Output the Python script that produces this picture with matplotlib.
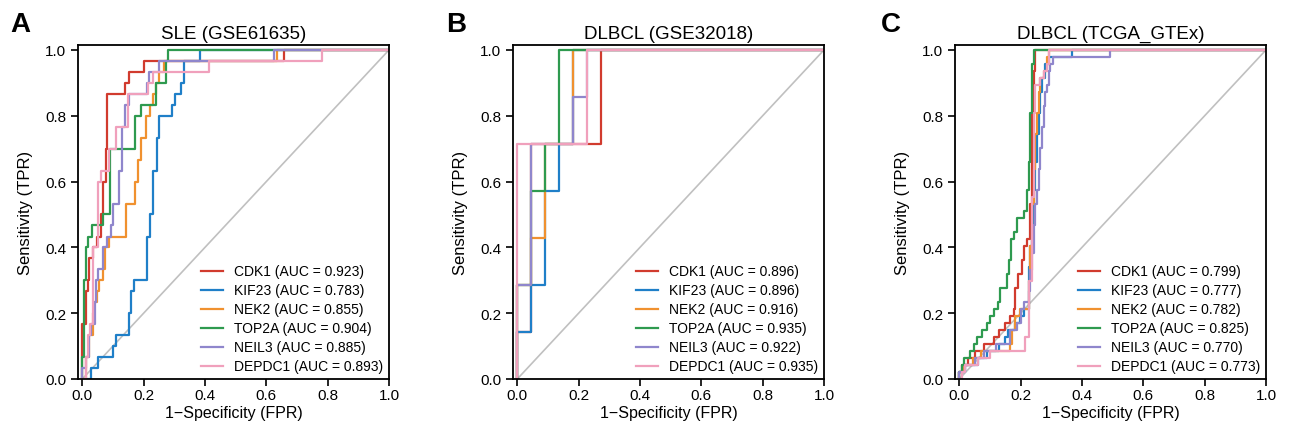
import matplotlib
matplotlib.use("Agg")
import matplotlib.pyplot as plt

plt.rcParams['font.family'] = ['Liberation Sans', 'DejaVu Sans']

# Genes / leyenda
genes = ["CDK1", "KIF23", "NEK2", "TOP2A", "NEIL3", "DEPDC1"]
colores = ["#d13b2e", "#1f7fc8", "#f0912f", "#2e9a4f", "#8f86cc", "#f0a0bc"]
titulos = ["SLE (GSE61635)", "DLBCL (GSE32018)", "DLBCL (TCGA_GTEx)"]
letras = ["A", "B", "C"]

auc_sle = [0.923, 0.783, 0.855, 0.904, 0.885, 0.893]
auc_gse32018 = [0.896, 0.896, 0.916, 0.935, 0.922, 0.935]
auc_tcga = [0.799, 0.777, 0.782, 0.825, 0.770, 0.773]

# Curvas ROC: posiciones FPR donde sube la curva y TPR tras cada salto
# --- SLE (GSE61635)
sle_cdk1_fpr = [0, 0.011, 0.017, 0.023, 0.034, 0.047, 0.061, 0.068, 0.077, 0.08, 0.14, 0.151, 0.202, 0.657]
sle_cdk1_tpr = [0.167, 0.267, 0.3, 0.367, 0.4, 0.433, 0.5, 0.6, 0.7, 0.867, 0.9, 0.933, 0.967, 1.0]
sle_kif23_fpr = [0.028, 0.05, 0.099, 0.11, 0.151, 0.159, 0.17, 0.212, 0.22, 0.231, 0.243, 0.251, 0.294, 0.302, 0.321, 0.332, 0.383]
sle_kif23_tpr = [0.033, 0.067, 0.1, 0.133, 0.2, 0.267, 0.3, 0.433, 0.5, 0.633, 0.733, 0.8, 0.833, 0.867, 0.9, 0.967, 1.0]
sle_nek2_fpr = [0.011, 0.022, 0.034, 0.039, 0.047, 0.055, 0.066, 0.075, 0.088, 0.142, 0.173, 0.18, 0.19, 0.207, 0.22, 0.23, 0.24, 0.25, 0.265, 0.636]
sle_nek2_tpr = [0.067, 0.133, 0.2, 0.233, 0.267, 0.3, 0.333, 0.4, 0.433, 0.533, 0.6, 0.667, 0.733, 0.8, 0.833, 0.867, 0.9, 0.933, 0.967, 1.0]
sle_top2a_fpr = [0, 0.004, 0.011, 0.017, 0.032, 0.066, 0.091, 0.173, 0.191, 0.24, 0.273, 0.281]
sle_top2a_tpr = [0.067, 0.3, 0.4, 0.433, 0.467, 0.5, 0.7, 0.8, 0.833, 0.9, 0.967, 1.0]
sle_neil3_fpr = [0, 0.011, 0.022, 0.03, 0.04, 0.045, 0.05, 0.066, 0.079, 0.092, 0.1, 0.12, 0.128, 0.139, 0.153, 0.21, 0.218, 0.251, 0.625]
sle_neil3_tpr = [0.033, 0.067, 0.133, 0.167, 0.233, 0.3, 0.333, 0.4, 0.433, 0.467, 0.533, 0.633, 0.767, 0.833, 0.867, 0.9, 0.933, 0.967, 1.0]
sle_depdc1_fpr = [0.011, 0.017, 0.025, 0.036, 0.05, 0.061, 0.088, 0.11, 0.148, 0.213, 0.231, 0.414, 0.78]
sle_depdc1_tpr = [0.067, 0.133, 0.167, 0.4, 0.6, 0.633, 0.7, 0.767, 0.867, 0.9, 0.933, 0.967, 1.0]

# --- DLBCL (GSE32018)
gse_cdk1_fpr = [0, 0.045, 0.273]
gse_cdk1_tpr = [0.143, 0.714, 1.0]
gse_kif23_fpr = [0, 0.045, 0.091, 0.136, 0.182]
gse_kif23_tpr = [0.143, 0.286, 0.571, 0.714, 1.0]
gse_nek2_fpr = [0, 0.045, 0.091, 0.182]
gse_nek2_tpr = [0.286, 0.429, 0.714, 1.0]
gse_top2a_fpr = [0, 0.045, 0.091, 0.136]
gse_top2a_tpr = [0.286, 0.571, 0.714, 1.0]
gse_neil3_fpr = [0, 0.045, 0.182, 0.227]
gse_neil3_tpr = [0.286, 0.714, 0.857, 1.0]
gse_depdc1_fpr = [0, 0.227]
gse_depdc1_tpr = [0.714, 1.0]

# --- DLBCL (TCGA_GTEx)
tcga_cdk1_fpr = [0, 0.01, 0.03, 0.052, 0.079, 0.112, 0.128, 0.15, 0.166, 0.177, 0.183, 0.193, 0.205, 0.21, 0.22, 0.231, 0.237, 0.242, 0.248]
tcga_cdk1_tpr = [0.021, 0.043, 0.064, 0.085, 0.106, 0.128, 0.149, 0.17, 0.191, 0.213, 0.277, 0.319, 0.362, 0.404, 0.426, 0.532, 0.809, 0.936, 1.0]
tcga_kif23_fpr = [0, 0.02, 0.06, 0.09, 0.13, 0.15, 0.16, 0.18, 0.199, 0.21, 0.226, 0.232, 0.237, 0.243, 0.248, 0.253, 0.259, 0.264, 0.27, 0.28, 0.291, 0.367]
tcga_kif23_tpr = [0.021, 0.043, 0.064, 0.085, 0.106, 0.128, 0.149, 0.17, 0.191, 0.213, 0.34, 0.404, 0.468, 0.574, 0.66, 0.745, 0.809, 0.872, 0.915, 0.957, 0.979, 1.0]
tcga_nek2_fpr = [0, 0.015, 0.045, 0.07, 0.166, 0.172, 0.183, 0.199, 0.226, 0.231, 0.237, 0.242, 0.248, 0.253, 0.259, 0.264, 0.275, 0.286, 0.291]
tcga_nek2_tpr = [0.021, 0.043, 0.064, 0.085, 0.106, 0.149, 0.191, 0.213, 0.298, 0.404, 0.532, 0.638, 0.745, 0.809, 0.872, 0.915, 0.936, 0.979, 1.0]
tcga_top2a_fpr = [0, 0.008, 0.014, 0.036, 0.047, 0.058, 0.074, 0.09, 0.1, 0.112, 0.125, 0.134, 0.155, 0.163, 0.168, 0.177, 0.188, 0.21, 0.22, 0.226, 0.232, 0.237, 0.242]
tcga_top2a_tpr = [0.021, 0.043, 0.064, 0.085, 0.106, 0.128, 0.149, 0.17, 0.191, 0.213, 0.234, 0.277, 0.319, 0.362, 0.426, 0.447, 0.489, 0.511, 0.574, 0.66, 0.809, 0.957, 1.0]
tcga_neil3_fpr = [0, 0.02, 0.05, 0.08, 0.12, 0.166, 0.188, 0.2, 0.21, 0.226, 0.231, 0.237, 0.242, 0.248, 0.253, 0.259, 0.264, 0.27, 0.275, 0.28, 0.286, 0.291, 0.297, 0.307, 0.49]
tcga_neil3_tpr = [0.021, 0.043, 0.064, 0.085, 0.106, 0.149, 0.17, 0.213, 0.234, 0.266, 0.33, 0.383, 0.468, 0.532, 0.574, 0.638, 0.702, 0.766, 0.83, 0.872, 0.894, 0.936, 0.957, 0.979, 1.0]
tcga_depdc1_fpr = [0.01, 0.02, 0.06, 0.1, 0.215, 0.228, 0.237, 0.242, 0.248, 0.264, 0.275, 0.286, 0.291]
tcga_depdc1_tpr = [0.021, 0.043, 0.064, 0.085, 0.128, 0.298, 0.553, 0.809, 0.894, 0.915, 0.936, 0.957, 1.0]

paneles = [
    ([sle_cdk1_fpr, sle_kif23_fpr, sle_nek2_fpr, sle_top2a_fpr, sle_neil3_fpr, sle_depdc1_fpr],
     [sle_cdk1_tpr, sle_kif23_tpr, sle_nek2_tpr, sle_top2a_tpr, sle_neil3_tpr, sle_depdc1_tpr], auc_sle),
    ([gse_cdk1_fpr, gse_kif23_fpr, gse_nek2_fpr, gse_top2a_fpr, gse_neil3_fpr, gse_depdc1_fpr],
     [gse_cdk1_tpr, gse_kif23_tpr, gse_nek2_tpr, gse_top2a_tpr, gse_neil3_tpr, gse_depdc1_tpr], auc_gse32018),
    ([tcga_cdk1_fpr, tcga_kif23_fpr, tcga_nek2_fpr, tcga_top2a_fpr, tcga_neil3_fpr, tcga_depdc1_fpr],
     [tcga_cdk1_tpr, tcga_kif23_tpr, tcga_nek2_tpr, tcga_top2a_tpr, tcga_neil3_tpr, tcga_depdc1_tpr], auc_tcga),
]


def camino_roc(fpr, tpr):
    # convierte los saltos en la escalera de la curva ROC
    xs, ys = [0.0], [0.0]
    for x, y in zip(fpr, tpr):
        xs += [x, x]
        ys += [ys[-1], y]
    xs.append(1.0)
    ys.append(tpr[-1])
    return xs, ys


W, H = 1292, 439
fig = plt.figure(figsize=(W / 100, H / 100), dpi=100)
izquierdas = [78, 513, 955]
letras_x = [10, 446, 881]

for i, (fprs, tprs, aucs) in enumerate(paneles):
    ax = fig.add_axes([izquierdas[i] / W, 59 / H, 311 / W, 334 / H])
    ax.plot([0, 1], [0, 1], color="#c0c0c0", lw=1.2)
    for gen, col, fpr, tpr, auc in zip(genes, colores, fprs, tprs, aucs):
        xs, ys = camino_roc(fpr, tpr)
        ax.plot(xs, ys, color=col, lw=1.6, label=f"{gen} (AUC = {auc:.3f})")
    ax.set_xlim(-0.014, 1.0)
    ax.set_ylim(0.0, 1.015)
    ax.set_xticks([0, 0.2, 0.4, 0.6, 0.8, 1.0])
    ax.set_yticks([0, 0.2, 0.4, 0.6, 0.8, 1.0])
    ax.tick_params(labelsize=11, length=5, width=1.2)
    ax.tick_params(axis="x", pad=1.5)
    for s in ax.spines.values():
        s.set_linewidth(1.3)
    ax.set_title(titulos[i], fontsize=13.5, pad=5)
    ax.set_xlabel("1\u2212Specificity (FPR)", fontsize=11.5, labelpad=2)
    ax.set_ylabel("Sensitivity (TPR)", fontsize=12, labelpad=9)
    ax.legend(loc="lower right", frameon=False, fontsize=10, labelspacing=0.36,
              handlelength=1.6, borderaxespad=0.2, borderpad=0.2)
    fig.text(letras_x[i] / W, 1 - 12 / H, letras[i], fontsize=20, fontweight="bold",
             ha="left", va="top")

plt.savefig("out.png", dpi=100)
plt.close()
